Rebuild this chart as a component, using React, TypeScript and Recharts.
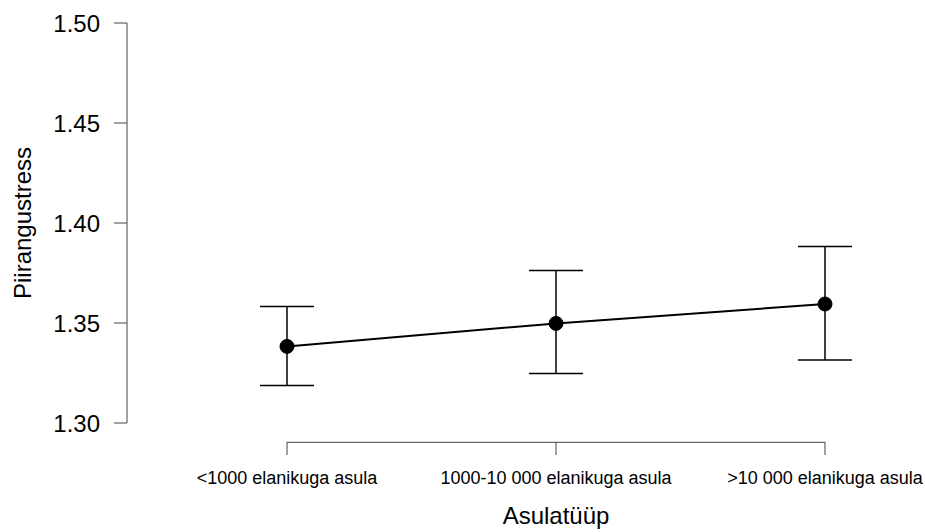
import {
  ComposedChart,
  Line,
  XAxis,
  YAxis,
  ErrorBar,
  ReferenceLine,
  Label,
} from "recharts";

const categories = [
  "<1000 elanikuga asula",
  "1000-10 000 elanikuga asula",
  ">10 000 elanikuga asula",
];
const means = [1.3383, 1.3498, 1.3595];
const lower = [1.3187, 1.3247, 1.3315];
const upper = [1.3583, 1.3763, 1.3882];
const yTicks = [1.3, 1.35, 1.4, 1.45, 1.5];

const data = categories.map((cat, i) => ({
  cat,
  mean: means[i],
  err: [means[i] - lower[i], upper[i] - means[i]],
}));

const font = "'Liberation Sans', Arial, sans-serif";

// x-axis sits a bit below the plot, like R's bty="n"
const X_AXIS_Y = 1.29035;

function XTick(props: any) {
  const { x, y, payload } = props;
  return (
    <g>
      <line x1={x} y1={y + 19} x2={x} y2={y + 32} stroke="#444" strokeWidth={1} />
      <text
        x={x}
        y={y + 55}
        textAnchor="middle"
        dominantBaseline="central"
        fontSize={18}
        fontFamily={font}
        fill="#000"
      >
        {payload.value}
      </text>
    </g>
  );
}

function YTitle(props: any) {
  const { viewBox } = props;
  const cx = viewBox.x + 22;
  const cy = viewBox.y + viewBox.height / 2;
  return (
    <text
      x={cx}
      y={cy}
      transform={`rotate(-90, ${cx}, ${cy})`}
      textAnchor="middle"
      dominantBaseline="central"
      fontSize={24}
      fontFamily={font}
      fill="#000"
    >
      Piirangustress
    </text>
  );
}

function XTitle() {
  return (
    <text
      x={556}
      y={515}
      textAnchor="middle"
      dominantBaseline="central"
      fontSize={24}
      fontFamily={font}
      fill="#000"
    >
      Asulatüüp
    </text>
  );
}

export default function App() {
  return (
    <div style={{ position: "absolute", left: 0, top: 0, background: "#fff" }}>
      <ComposedChart
        width={925}
        height={532}
        data={data}
        margin={{ top: 23, right: 0, left: 0, bottom: 0 }}
      >
        <XAxis
          dataKey="cat"
          scale="point"
          padding={{ left: 160, right: 100 }}
          axisLine={false}
          tickLine={false}
          tickSize={0}
          tickMargin={0}
          height={109}
          tick={<XTick />}
          interval={0}
        >
          <Label content={<XTitle />} />
        </XAxis>
        <YAxis
          type="number"
          domain={[1.3, 1.5]}
          ticks={yTicks}
          width={127}
          tickSize={13}
          tickMargin={14}
          stroke="#444"
          tick={{ fill: "#000", fontSize: 24, fontFamily: font }}
          tickFormatter={(v: number) => v.toFixed(2)}
          allowDataOverflow
        >
          <Label content={<YTitle />} />
        </YAxis>
        <ReferenceLine
          segment={[
            { x: categories[0], y: X_AXIS_Y },
            { x: categories[categories.length - 1], y: X_AXIS_Y },
          ]}
          stroke="#444"
          strokeWidth={1}
          ifOverflow="visible"
        />
        <Line
          dataKey="mean"
          stroke="#000"
          strokeWidth={2}
          dot={{ r: 7, fill: "#000", stroke: "#000", strokeWidth: 1 }}
          activeDot={false}
          isAnimationActive={false}
        >
          <ErrorBar dataKey="err" width={27} stroke="#000" strokeWidth={1.5} direction="y" />
        </Line>
      </ComposedChart>
    </div>
  );
}
